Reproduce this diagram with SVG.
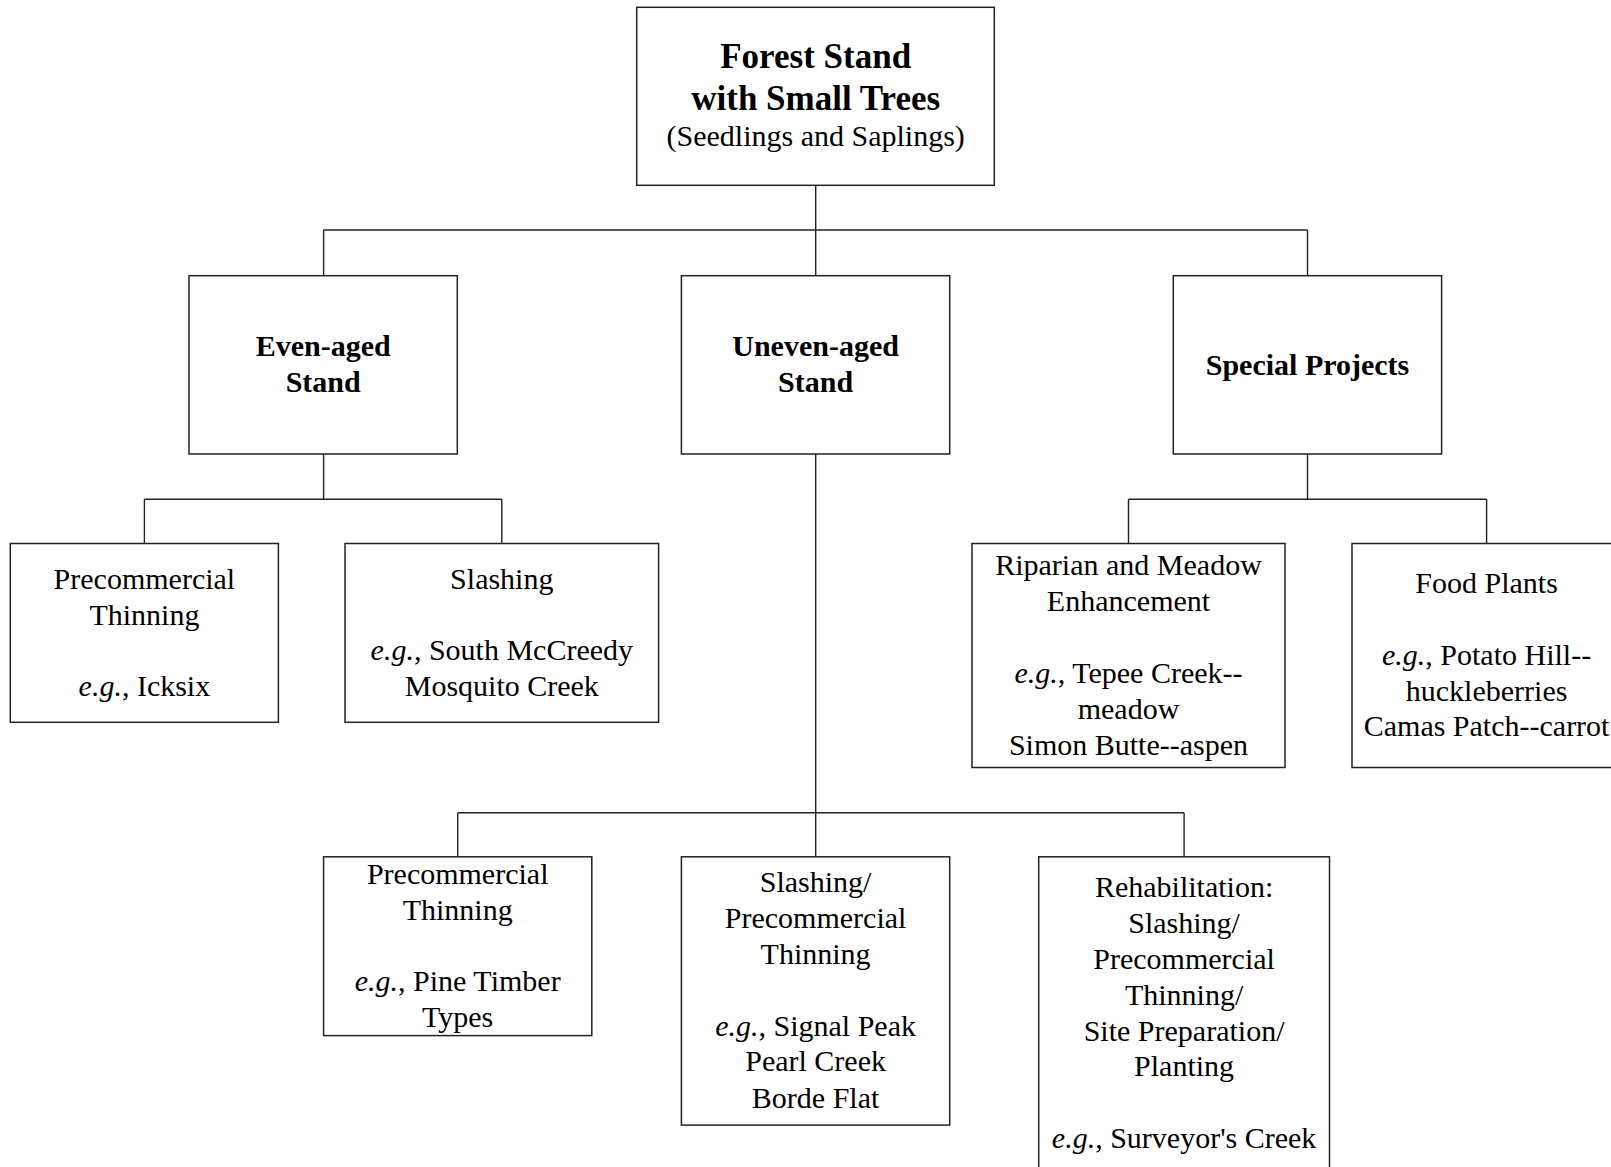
<svg xmlns="http://www.w3.org/2000/svg" width="1611" height="1167" viewBox="0 0 1611 1167">
<style>
.box{fill:#fff;stroke:#222;stroke-width:1.5}
.ln{fill:none;stroke:#222;stroke-width:1.4}
text{font-family:"Liberation Serif","Times New Roman",serif;fill:#000;text-anchor:middle}
.t{font-size:35px;font-weight:bold}
.b{font-size:30px;font-weight:bold}
.r{font-size:30px}
.i{font-style:italic}
</style>
<rect width="1611" height="1167" fill="#fff"/>
<g id="connectors">
<path class="ln" d="M815.7 185.5V275.7M323.6 230H1307.5M323.6 230V275.7M1307.5 230V275.7"/>
<path class="ln" d="M323.6 454V499.3M144.4 499.3H501.8M144.4 499.3V543.5M501.8 499.3V543.5"/>
<path class="ln" d="M1307.5 454V499.3M1128.5 499.3H1486.6M1128.5 499.3V543.5M1486.6 499.3V543.5"/>
<path class="ln" d="M815.7 454V856.8M457.7 812.7H1184.1M457.7 812.7V856.8M1184.1 812.7V856.8"/>
</g>
<g id="root">
<rect class="box" x="636.7" y="7.3" width="357.6" height="178"/>
<text class="t" x="815.7" y="68">Forest Stand</text>
<text class="t" x="815.7" y="110">with Small Trees</text>
<text class="r" x="815.7" y="146">(Seedlings and Saplings)</text>
</g>
<g id="even-aged">
<rect class="box" x="189" y="275.7" width="268.3" height="178.3"/>
<text class="b" x="323.2" y="356">Even-aged</text>
<text class="b" x="323.2" y="392">Stand</text>
</g>
<g id="uneven-aged">
<rect class="box" x="681.4" y="275.7" width="268.3" height="178.3"/>
<text class="b" x="815.6" y="356">Uneven-aged</text>
<text class="b" x="815.6" y="392">Stand</text>
</g>
<g id="special-projects">
<rect class="box" x="1173.3" y="275.7" width="268.3" height="178.3"/>
<text class="b" x="1307.5" y="375">Special Projects</text>
</g>
<g id="even-pct">
<rect class="box" x="10.3" y="543.5" width="268.1" height="178.8"/>
<text class="r" x="144.4" y="589">Precommercial</text>
<text class="r" x="144.4" y="625">Thinning</text>
<text class="r" x="144.4" y="696"><tspan class="i">e.g.</tspan>, Icksix</text>
</g>
<g id="even-slashing">
<rect class="box" x="345" y="543.5" width="313.6" height="178.8"/>
<text class="r" x="501.8" y="589">Slashing</text>
<text class="r" x="501.8" y="660"><tspan class="i">e.g.</tspan>, South McCreedy</text>
<text class="r" x="501.8" y="696">Mosquito Creek</text>
</g>
<g id="riparian">
<rect class="box" x="972" y="543.5" width="313" height="224"/>
<text class="r" x="1128.5" y="575">Riparian and Meadow</text>
<text class="r" x="1128.5" y="611">Enhancement</text>
<text class="r" x="1128.5" y="683"><tspan class="i">e.g.</tspan>, Tepee Creek--</text>
<text class="r" x="1128.5" y="719">meadow</text>
<text class="r" x="1128.5" y="755">Simon Butte--aspen</text>
</g>
<g id="food-plants">
<rect class="box" x="1352" y="543.5" width="270" height="224"/>
<text class="r" x="1486.6" y="593">Food Plants</text>
<text class="r" x="1486.6" y="665"><tspan class="i">e.g.</tspan>, Potato Hill--</text>
<text class="r" x="1486.6" y="701">huckleberries</text>
<text class="r" x="1486.6" y="736">Camas Patch--carrot</text>
</g>
<g id="uneven-pct">
<rect class="box" x="323.6" y="856.8" width="268.2" height="178.8"/>
<text class="r" x="457.7" y="884">Precommercial</text>
<text class="r" x="457.7" y="920">Thinning</text>
<text class="r" x="457.7" y="991"><tspan class="i">e.g.</tspan>, Pine Timber</text>
<text class="r" x="457.7" y="1027">Types</text>
</g>
<g id="uneven-slashing-pct">
<rect class="box" x="681.4" y="856.8" width="268.3" height="268.3"/>
<text class="r" x="815.6" y="892">Slashing/</text>
<text class="r" x="815.6" y="928">Precommercial</text>
<text class="r" x="815.6" y="964">Thinning</text>
<text class="r" x="815.6" y="1036"><tspan class="i">e.g.</tspan>, Signal Peak</text>
<text class="r" x="815.6" y="1071">Pearl Creek</text>
<text class="r" x="815.6" y="1108">Borde Flat</text>
</g>
<g id="rehabilitation">
<rect class="box" x="1038.7" y="856.8" width="290.8" height="330"/>
<text class="r" x="1184.1" y="897">Rehabilitation:</text>
<text class="r" x="1184.1" y="933">Slashing/</text>
<text class="r" x="1184.1" y="969">Precommercial</text>
<text class="r" x="1184.1" y="1005">Thinning/</text>
<text class="r" x="1184.1" y="1041">Site Preparation/</text>
<text class="r" x="1184.1" y="1076">Planting</text>
<text class="r" x="1184.1" y="1148"><tspan class="i">e.g.</tspan>, Surveyor's Creek</text>
</g>
</svg>
